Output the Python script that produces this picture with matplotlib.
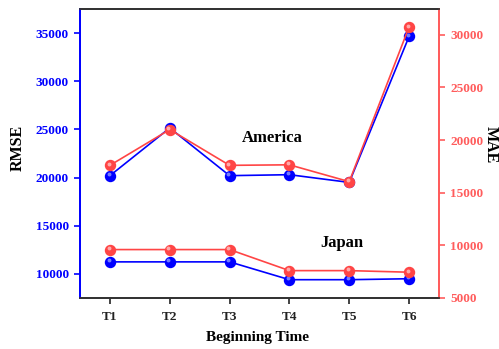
import matplotlib
matplotlib.use("Agg")
import matplotlib.pyplot as plt
import matplotlib.transforms as mtransforms

plt.rcParams['font.family'] = ['Liberation Serif', 'DejaVu Serif']
plt.rcParams['font.weight'] = 'bold'

periods = ["T1", "T2", "T3", "T4", "T5", "T6"]
rmse_america = [20200, 25150, 20200, 20300, 19500, 34650]
rmse_japan = [11250, 11250, 11250, 9400, 9400, 9500]
mae_america = [17600, 21000, 17600, 17650, 16050, 30750]
mae_japan = [9600, 9600, 9600, 7600, 7600, 7450]

BLUE = "#0000ff"
RED = "#ff4545"
RED_AXIS = "#ff5c5c"

fig = plt.figure(figsize=(4.99, 3.49), dpi=100)
ax = fig.add_axes([80 / 499, 1 - 298 / 349, 359 / 499, 289 / 349])
ax2 = ax.twinx()

x = list(range(len(periods)))
shine = mtransforms.offset_copy(ax.transData, fig=fig, x=-1.0, y=1.0, units='points')
shine2 = mtransforms.offset_copy(ax2.transData, fig=fig, x=-1.0, y=1.0, units='points')


def ball_line(axis, tr, ys, color, hl):
    axis.plot(x, ys, color=color, lw=1.2, marker='o', ms=7.2,
              mfc=color, mec=color, zorder=3)
    axis.plot(x, ys, ls='none', marker='o', ms=2.8, mfc=hl, mec='none',
              alpha=0.8, transform=tr, zorder=4)


ball_line(ax, shine, rmse_america, BLUE, "#8f9bff")
ball_line(ax, shine, rmse_japan, BLUE, "#8f9bff")
ball_line(ax2, shine2, mae_america, RED, "#ffc4c4")
ball_line(ax2, shine2, mae_japan, RED, "#ffc4c4")

ax.set_xlim(-0.5, 5.5)
ax.set_ylim(7500, 37500)
ax2.set_ylim(5000, 32450)

ax.set_xticks(x)
ax.set_xticklabels(periods)
ax.set_yticks([10000, 15000, 20000, 25000, 30000, 35000])
ax2.set_yticks([5000, 10000, 15000, 20000, 25000, 30000])

for a in (ax, ax2):
    for s in a.spines.values():
        s.set_linewidth(1.3)
    a.spines['top'].set_color('#333333')
    a.spines['bottom'].set_color('#333333')
    a.spines['left'].set_color(BLUE)
    a.spines['right'].set_color(RED_AXIS)

ax.tick_params(axis='y', colors=BLUE, labelsize=9.5, direction='out', length=4, width=1.2, pad=4)
ax.tick_params(axis='x', colors='#222222', labelsize=9.5, direction='out', length=4, width=1.2, pad=5)
ax2.tick_params(axis='y', colors=RED_AXIS, labelsize=9.5, direction='out', length=4, width=1.2, pad=4)
for lab in ax.get_yticklabels() + ax.get_xticklabels() + ax2.get_yticklabels():
    lab.set_fontweight('bold')

ax.set_ylabel("RMSE", fontsize=11.5, fontweight='bold', color='black', va='center')
ax.yaxis.set_label_coords(-0.173, 0.52)
ax2.set_ylabel("MAE", fontsize=11.5, fontweight='bold', color='black', rotation=270, va='center')
ax2.yaxis.set_label_coords(1.145, 0.53)
ax.set_xlabel("Beginning Time", fontsize=11, fontweight='bold', va='center')
ax.xaxis.set_label_coords(0.495, -0.138)

ax.text(0.535, 0.555, "America", transform=ax.transAxes, fontsize=12,
        fontweight='bold', ha='center', va='center')
ax.text(0.73, 0.19, "Japan", transform=ax.transAxes, fontsize=12,
        fontweight='bold', ha='center', va='center')

fig.savefig("out.png", dpi=100)
